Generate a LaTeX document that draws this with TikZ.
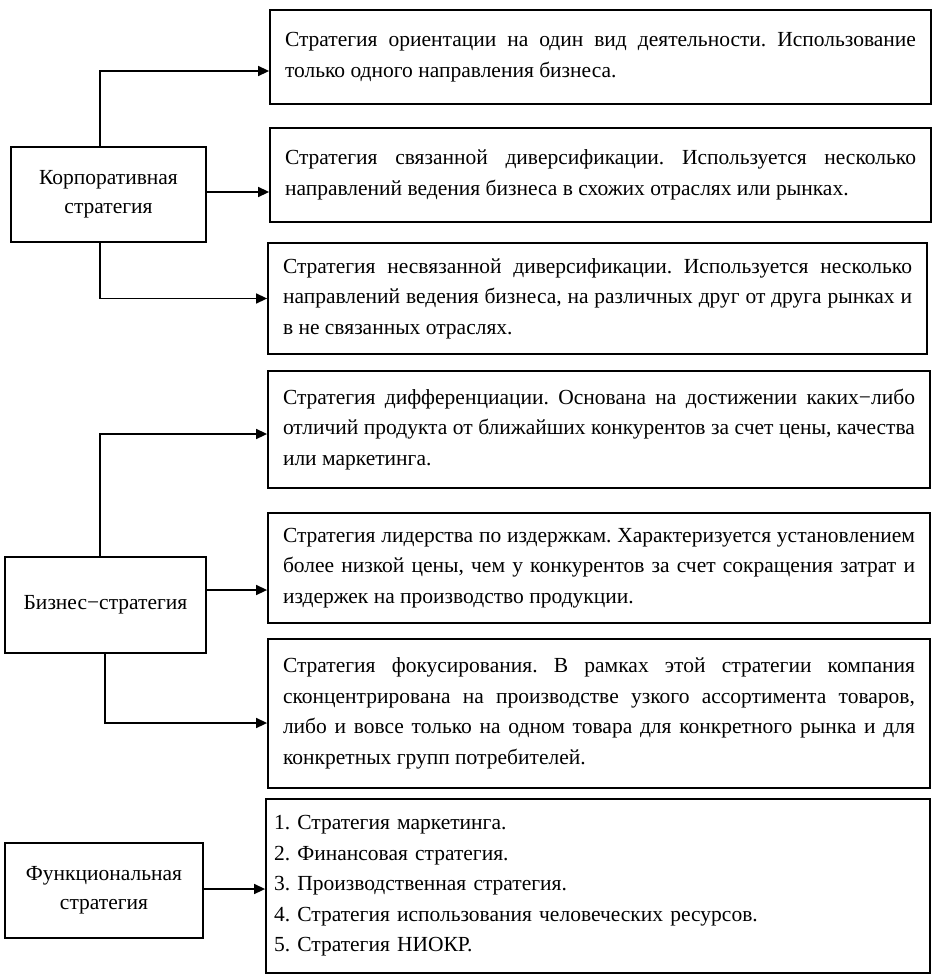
\documentclass[tikz,border=0pt]{standalone}
\usepackage{fontspec}
\setmainfont{Liberation Serif}
\usetikzlibrary{arrows.meta}
\frenchspacing
\begin{document}
\begin{tikzpicture}[x=1pt,y=-1pt,
  box/.style={draw, line width=1.8pt, inner ysep=0pt, inner xsep=15pt,
    font=\fontsize{21.5pt}{30.5pt}\selectfont},
  rbox/.style={box, align=justify},
  lbox/.style={box, align=center, inner xsep=2pt, font=\fontsize{21.5pt}{29pt}\selectfont},
  arr/.style={line width=1.5pt, -{Triangle[length=11pt,width=10pt]}}]
\useasboundingbox (0,0) rectangle (933,980);
% right boxes
\node[rbox, text width=631pt, minimum height=94pt] (b1) at (600.5,57)
 {Стратегия ориентации на один вид деятельности. Использование\linebreak только одного направления бизнеса.};
\node[rbox, text width=631pt, minimum height=94pt] (b2) at (600.5,175)
 {Стратегия связанной диверсификации. Используется несколько\linebreak направлений ведения бизнеса в схожих отраслях или рынках.};
\node[rbox, text width=629pt, minimum height=111pt] (b3) at (597.5,298.5)
 {Стратегия несвязанной диверсификации. Используется несколько\linebreak направлений ведения бизнеса, на различных друг от друга рынках и\linebreak в не связанных отраслях.};
\node[rbox, text width=632pt, minimum height=117pt] (b4) at (599,429.5)
 {Стратегия дифференциации. Основана на достижении каких−либо\linebreak отличий продукта от ближайших конкурентов за счет цены, качества\linebreak или маркетинга.};
\node[rbox, text width=632pt, minimum height=110pt] (b5) at (599,568)
 {Стратегия лидерства по издержкам. Характеризуется установлением\linebreak более низкой цены, чем у конкурентов за счет сокращения затрат и\linebreak издержек на производство продукции.};
\node[rbox, text width=632pt, minimum height=149pt] (b6) at (599,713.5)
 {Стратегия фокусирования. В рамках этой стратегии компания\linebreak сконцентрирована на производстве узкого ассортимента товаров,\linebreak либо и вовсе только на одном товара для конкретного рынка и для\linebreak конкретных групп потребителей.};
\node[box, align=left, inner xsep=8pt, text width=648pt, minimum height=174pt] (b7) at (598,886)
 {1. Стратегия маркетинга.\\2. Финансовая стратегия.\\3. Производственная стратегия.\\4. Стратегия использования человеческих ресурсов.\\5. Стратегия НИОКР.};
% left boxes
\node[lbox, minimum width=195pt, minimum height=95pt] (corp) at (108.5,194.5) {Корпоративная\\стратегия};
\node[lbox, minimum width=201pt, minimum height=96pt] (bus) at (105.5,605) {Бизнес−стратегия};
\node[lbox, minimum width=198pt, minimum height=95pt] (func) at (104,890.5) {Функциональная\\стратегия};
% connectors
\draw[arr] ([xshift=-8.5pt]corp.north) |- ([yshift=-14pt]b1.west);
\draw[arr] ([yshift=2.5pt]corp.east) -- ([yshift=2.5pt]corp.east -| b2.west);
\draw[arr] ([xshift=-8.5pt]corp.south) |- (b3.west);
\draw[arr] ([xshift=-5.5pt]bus.north) |- ([yshift=-4.5pt]b4.west);
\draw[arr] ([yshift=15pt]bus.east) -- ([yshift=15pt]bus.east -| b5.west);
\draw[arr] ([xshift=-0.5pt]bus.south) |- ([yshift=-9.5pt]b6.west);
\draw[arr] ([yshift=1.5pt]func.east) -- ([yshift=1.5pt]func.east -| b7.west);
\end{tikzpicture}
\end{document}
